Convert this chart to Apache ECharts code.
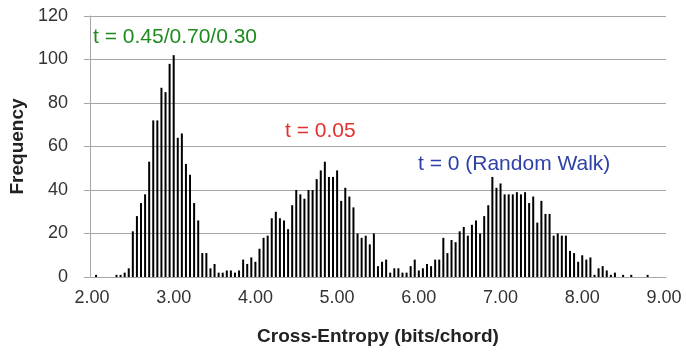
<!DOCTYPE html>
<html>
<head>
<meta charset="utf-8">
<script src="https://cdn.jsdelivr.net/npm/echarts@6/dist/echarts.min.js"></script>
<style>
  html, body { margin: 0; padding: 0; background: #fff; }
  #hist { width: 686px; height: 352px; }
</style>
</head>
<body>
<div id="hist"></div>
<script>
// histogram bins: 2.00 .. 9.00, step 0.05
var binStart = 2.0;
var binStep = 0.05;
var frequency = [
    0, 1, 0, 0, 0, 0, 1, 1, 2, 4,
    21, 28, 34, 38, 53, 72, 72, 87, 85, 98,
    102, 64, 66, 52, 47, 34, 26, 11, 11, 4,
    6, 2, 2, 3, 3, 2, 3, 8, 6, 9,
    7, 13, 18, 19, 27, 30, 27, 26, 22, 33,
    40, 38, 36, 40, 40, 45, 49, 53, 46, 46,
    49, 35, 41, 37, 32, 20, 18, 19, 15, 20,
    5, 7, 8, 2, 4, 4, 2, 2, 5, 8,
    3, 4, 6, 5, 8, 8, 18, 11, 17, 16,
    21, 23, 19, 24, 26, 20, 28, 33, 46, 41,
    43, 38, 38, 38, 39, 38, 39, 34, 37, 25,
    35, 29, 29, 19, 20, 19, 19, 12, 11, 7,
    10, 8, 9, 1, 4, 5, 3, 1, 2, 0,
    1, 0, 1, 0, 0, 0, 1, 0, 0, 0,
    0
];
var yTicks = [0, 20, 40, 60, 80, 100, 120];
var notes = [
    { text: 't = 0.45/0.70/0.30', color: '#1e8c1e' },
    { text: 't = 0.05', color: '#e2312e' },
    { text: 't = 0 (Random Walk)', color: '#2f40a6' }
];

var categories = [];
for (var i = 0; i < frequency.length; i++) {
    categories.push((binStart + i * binStep).toFixed(2));
}

var font = 'Liberation Sans, Arial, sans-serif';
var hist = echarts.init(document.getElementById('hist'));
var histOption = {
    animation: false,
    grid: {
        left: 86,
        right: 20,
        top: 16,
        bottom: 75
    },
    xAxis: {
        type: 'category',
        data: categories,
        boundaryGap: true,
        name: 'Cross-Entropy (bits/chord)',
        nameLocation: 'middle',
        nameGap: 50,
        nameTextStyle: {
            fontFamily: font,
            fontWeight: 'bold',
            fontSize: 19,
            color: '#222'
        },
        axisLine: { lineStyle: { color: '#a6a6a6', width: 1 } },
        axisTick: { show: false },
        axisLabel: {
            interval: 19,
            margin: 12,
            fontFamily: font,
            fontSize: 18,
            color: '#333'
        }
    },
    yAxis: {
        type: 'value',
        min: yTicks[0],
        max: yTicks[yTicks.length - 1],
        interval: 20,
        name: 'Frequency',
        nameLocation: 'middle',
        nameGap: 62,
        nameTextStyle: {
            fontFamily: font,
            fontWeight: 'bold',
            fontSize: 19,
            color: '#222'
        },
        axisLine: { show: true, lineStyle: { color: '#a6a6a6', width: 1 } },
        axisTick: { show: true, length: 6, lineStyle: { color: '#a6a6a6' } },
        axisLabel: {
            margin: 22,
            fontFamily: font,
            fontSize: 18,
            color: '#333'
        },
        splitLine: { lineStyle: { color: '#a6a6a6', width: 1 } }
    },
    series: [
        {
            name: 'Frequency',
            type: 'bar',
            data: frequency,
            barWidth: 2,
            itemStyle: { color: '#000' }
        }
    ],
    graphic: [
        {
            type: 'text', left: 93, top: 27,
            style: { text: notes[0].text, fill: notes[0].color, font: '21px ' + font }
        },
        {
            type: 'text', left: 285, top: 121,
            style: { text: notes[1].text, fill: notes[1].color, font: '21px ' + font }
        },
        {
            type: 'text', left: 418, top: 154,
            style: { text: notes[2].text, fill: notes[2].color, font: '21px ' + font }
        }
    ]
};
hist.setOption(histOption);
window.addEventListener('resize', function () {
    hist.resize();
});
</script>
</body>
</html>
